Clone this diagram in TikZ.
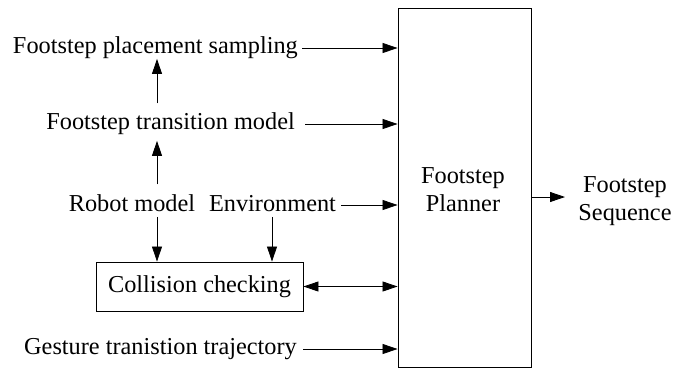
\documentclass[tikz,border=0pt]{standalone}
\usepackage{fontspec}
\setmainfont{Liberation Serif}
\usetikzlibrary{arrows.meta}
\begin{document}
\begin{tikzpicture}[x=1pt,y=-1pt,
  lbl/.style={inner sep=0pt,font=\fontsize{24.3}{28}\selectfont},
  box/.style={draw,line width=0.9pt,inner sep=0pt},
  tip/.tip={Triangle[length=15pt,width=10pt]},
  arr/.style={line width=0.8pt,-tip},
  darr/.style={line width=0.8pt,tip-tip}]
\useasboundingbox (0,0) rectangle (687,376);
% planner
\node[box,minimum width=133pt,minimum height=359pt] (pl) at (464.5,187.5) {};
\node[lbl,align=center] (plt) at (463,190) {Footstep\\Planner};
\node[lbl,align=center] (seq) at (625,201) {Footstep\\Sequence};
% left labels
\node[lbl,anchor=base east] (ps) at (298,53.5) {Footstep placement sampling};
\node[lbl,anchor=base east] (tm) at (295,129.5) {Footstep transition model};
\node[lbl,anchor=base] (rm) at (132,211.5) {Robot model};
\node[lbl,anchor=base] (env) at (272.5,211.5) {Environment};
\node[box,minimum width=207pt,minimum height=49pt,font=\fontsize{24.3}{28}\selectfont] (coll) at (199.5,286.5) {Collision checking};
\node[lbl,anchor=base east] (gt) at (297,354.5) {Gesture tranistion trajectory};
\coordinate (ax) at (157,0);
\coordinate (bx) at (272,0);
% arrows to planner
\draw[arr] ([xshift=4pt,yshift=5.5pt]ps.base east) -- ([yshift=5.5pt]ps.base east -| pl.west);
\draw[arr] ([xshift=10pt,yshift=5.5pt]tm.base east) -- ([yshift=5.5pt]tm.base east -| pl.west);
\draw[arr] ([xshift=5pt,yshift=6.5pt]env.base east) -- ([yshift=6.5pt]env.base east -| pl.west);
\draw[darr] (coll.east) -- (coll.east -| pl.west);
\draw[arr] ([xshift=6pt,yshift=5.5pt]gt.base east) -- ([yshift=5.5pt]gt.base east -| pl.west);
% vertical arrows
\draw[arr,shorten <=10pt] (rm.north -| ax) -- ([yshift=-6pt]tm.south -| ax);
\draw[arr,shorten <=9pt] (tm.north -| ax) -- (ps.south -| ax);
\draw[arr,shorten <=5pt] (rm.south -| ax) -- (coll.north -| ax);
\draw[arr,shorten <=5pt] (env.south -| bx) -- (coll.north -| bx);
% output
\draw[arr] (pl.east |- 0,197) -- (565,197) coordinate (oe);
\end{tikzpicture}
\end{document}
